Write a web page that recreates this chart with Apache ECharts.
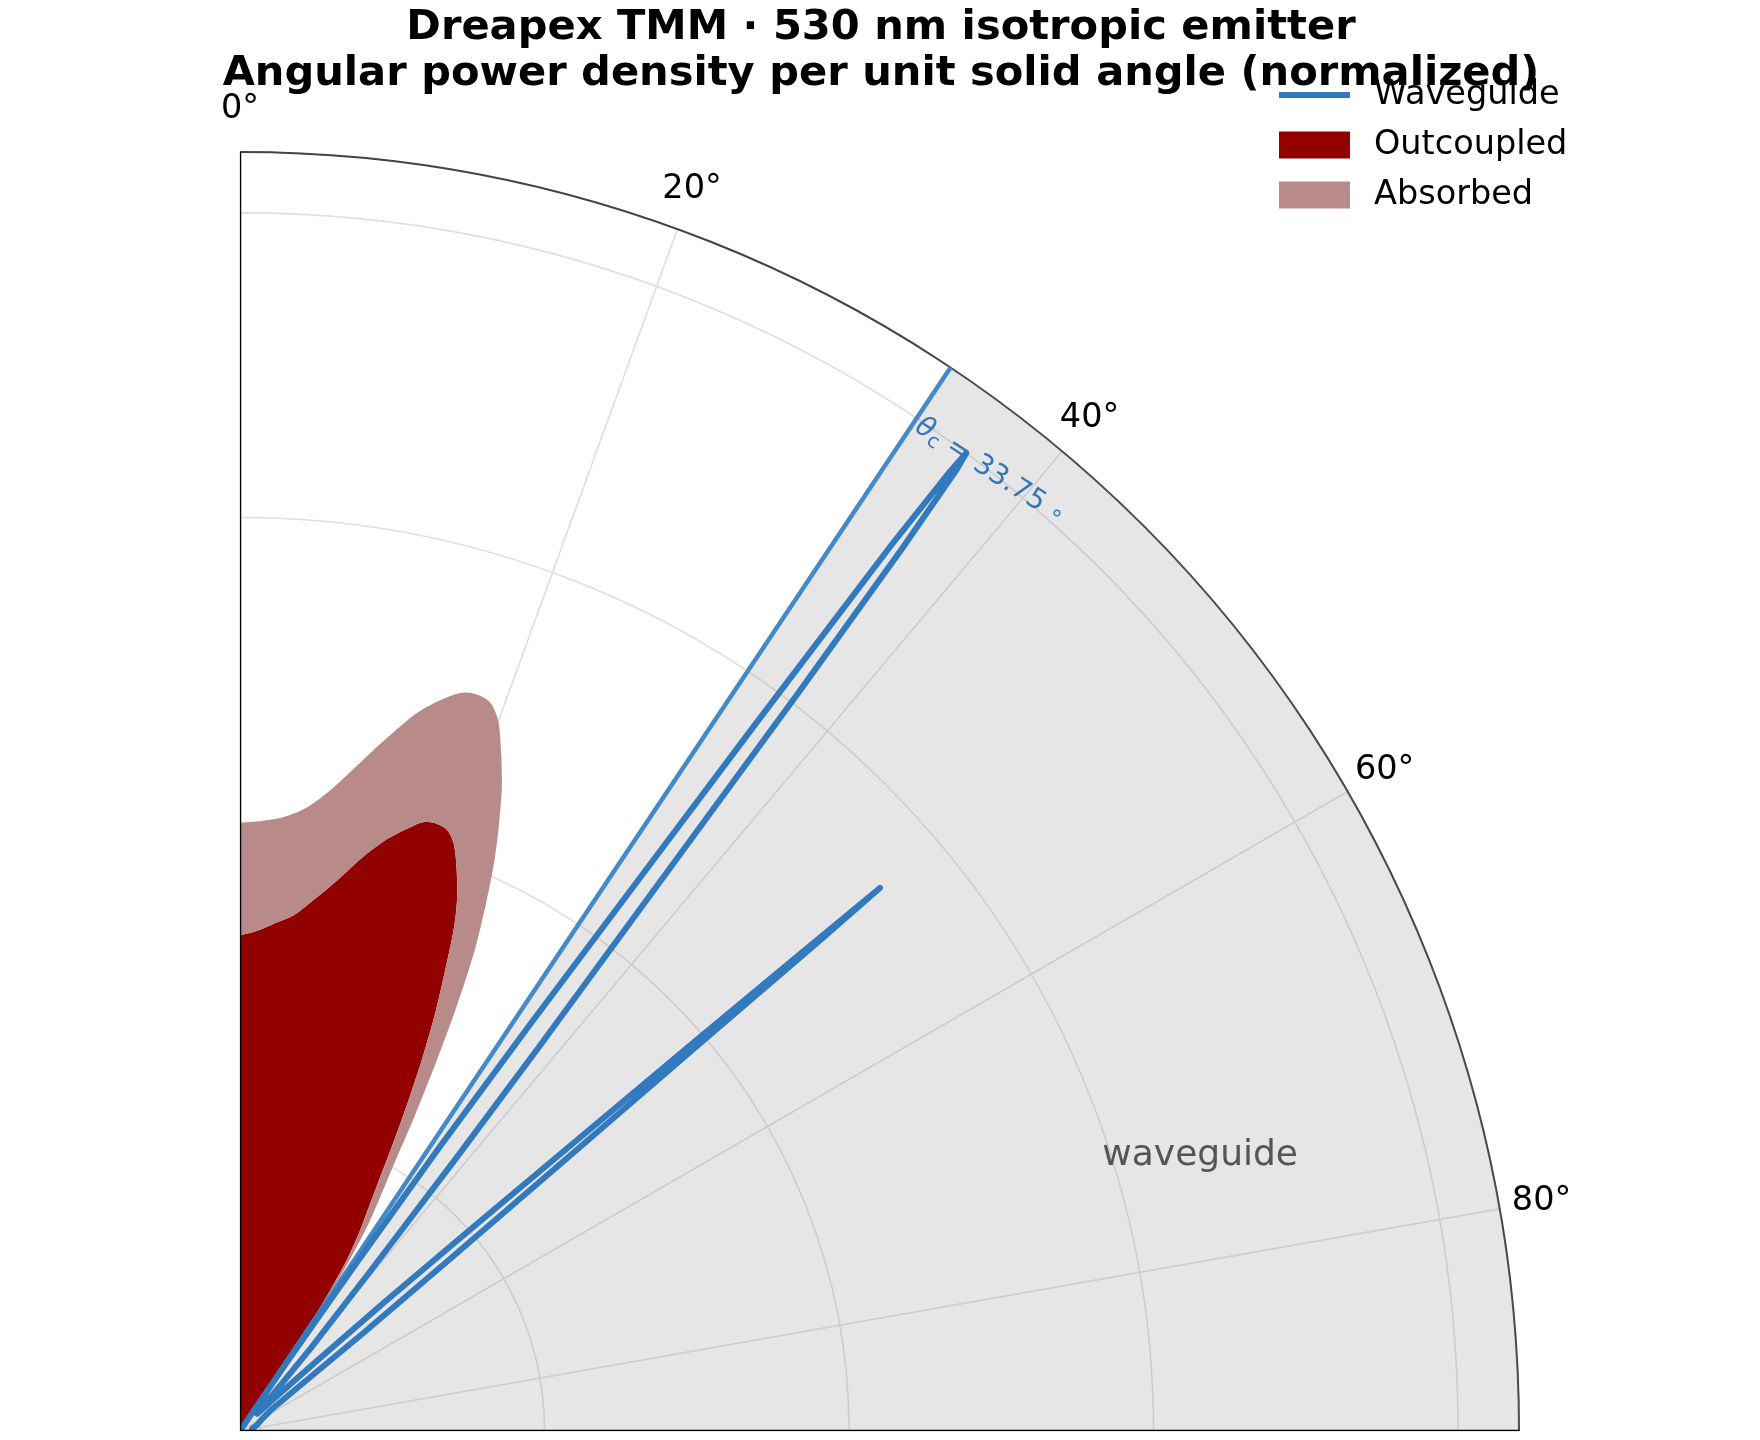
<!DOCTYPE html>
<html lang="en" style="height: 100%">
<head>
    <meta charset="UTF-8">
    <title>Dreapex TMM angular power density</title>
    <script type="text/javascript" src="https://cdn.jsdelivr.net/npm/echarts@6/dist/echarts.min.js"></script>
</head>
<body style="height: 100%; margin: 0; background: #fff">
<div id="container" style="width: 1760px; height: 1440px"></div>
<script type="text/javascript">
    // polar angles in degrees (0 = normal), radius = normalized power
    var fillAngles = [0, 2, 4, 6, 8, 10, 12, 14, 16, 17, 18, 19, 20, 21, 22, 23, 24, 25, 26, 27, 28, 29, 30, 31, 32, 33, 33.5, 33.75];
    var outcoupled = [0.407, 0.411, 0.418, 0.426, 0.441, 0.459, 0.481, 0.501, 0.517, 0.523, 0.524, 0.522, 0.513, 0.496, 0.476, 0.450, 0.414, 0.380, 0.343, 0.305, 0.268, 0.235, 0.210, 0.190, 0.165, 0.120, 0.050, 0];
    var absorbed = [0.092, 0.090, 0.087, 0.088, 0.090, 0.096, 0.101, 0.108, 0.111, 0.111, 0.111, 0.110, 0.107, 0.102, 0.098, 0.095, 0.100, 0.098, 0.097, 0.088, 0.075, 0.061, 0.042, 0.032, 0.029, 0.030, 0.020, 0];

    var wgAngles = [0, 33.75, 34.0, 34.3, 34.7, 35.1, 35.5, 35.83, 36.1, 36.32, 36.5, 36.6, 36.7, 36.88, 37.1, 37.45, 37.9, 38.4, 39.2, 40.5, 41.5, 43, 45, 46.5, 47.5, 48.3, 48.8, 49.14, 49.43, 49.58, 49.68, 49.78, 49.88, 50.18, 50.7, 51.5, 53, 56, 62, 70, 80, 90];
    var waveguide = [0, 0, 0.02, 0.07, 0.16, 0.285, 0.41, 0.54, 0.72, 0.90, 0.98, 1.0, 0.985, 0.907, 0.76, 0.549, 0.40, 0.284, 0.17, 0.09, 0.05, 0.025, 0.02, 0.04, 0.08, 0.16, 0.25, 0.34, 0.494, 0.60, 0.689, 0.62, 0.50, 0.347, 0.22, 0.13, 0.06, 0.03, 0.02, 0.015, 0.01, 0.01];

    var angleTicks = [0, 20, 40, 60, 80];
    var thetaC = 33.75;
    var rMax = 1.05;
    var rTickLabel = 1.085;

    function pairs(rs, angles) {
        var out = [];
        for (var i = 0; i < angles.length; i++) {
            out.push([rs[i], angles[i]]);
        }
        return out;
    }

    var myChart = echarts.init(document.getElementById('container'));
    var font = 'DejaVu Sans';
    var blueText = '#3476b9';

    myChart.setOption({
        animation: false,
        textStyle: {fontFamily: font},
        title: {
            text: 'Dreapex TMM · 530 nm isotropic emitter\nAngular power density per unit solid angle (normalized)',
            left: 876,
            top: 0,
            textAlign: 'center',
            textStyle: {fontFamily: font, fontSize: 41.6, fontWeight: 'bold', color: '#000', lineHeight: 46}
        },
        legend: {
            orient: 'vertical',
            left: 1274,
            top: 73,
            itemWidth: 71,
            itemHeight: 27,
            itemGap: 16,
            itemStyle: {borderWidth: 0},
            textStyle: {fontFamily: font, fontSize: 33.5, color: '#000', lineHeight: 33, padding: [0, 0, 0, 19]},
            data: [
                {name: 'Waveguide', icon: 'path://M0,0h72v6h-72z'},
                {name: 'Outcoupled', icon: 'rect'},
                {name: 'Absorbed', icon: 'rect'}
            ]
        },
        polar: {center: [240, 1431], radius: 1279},
        angleAxis: {
            type: 'value',
            min: 0,
            max: 90,
            interval: 20,
            startAngle: 90,
            endAngle: 0,
            clockwise: true,
            axisLine: {show: true, lineStyle: {color: '#444', width: 2}},
            axisTick: {show: false},
            axisLabel: {show: false},
            splitLine: {show: true, lineStyle: {color: '#dfdfdf', width: 1.6}}
        },
        radiusAxis: {
            type: 'value',
            min: 0,
            max: rMax,
            interval: 0.25,
            axisLine: {show: false},
            axisTick: {show: false},
            axisLabel: {show: false},
            splitLine: {show: true, lineStyle: {color: '#dfdfdf', width: 1.6}}
        },
        series: [
            {
                // trapped (waveguide) angular range shading
                type: 'custom',
                name: 'region',
                coordinateSystem: 'polar',
                silent: true,
                z: 1,
                data: [[rMax, thetaC, 90]],
                renderItem: function (params, api) {
                    var cs = params.coordSys;
                    var cx = cs.cx, cy = cs.cy;
                    var p0 = api.coord([api.value(0), api.value(1)]);
                    var p1 = api.coord([api.value(0), api.value(2)]);
                    var r = Math.sqrt((p0[0] - cx) * (p0[0] - cx) + (p0[1] - cy) * (p0[1] - cy));
                    return {
                        type: 'sector',
                        shape: {
                            cx: cx, cy: cy, r0: 0, r: r,
                            startAngle: Math.atan2(p0[1] - cy, p0[0] - cx),
                            endAngle: Math.atan2(p1[1] - cy, p1[0] - cx),
                            clockwise: true
                        },
                        style: {fill: 'rgba(140,140,140,0.22)'}
                    };
                }
            },
            {
                type: 'line',
                name: 'Outcoupled',
                coordinateSystem: 'polar',
                stack: 'power',
                symbol: 'none',
                smooth: 0.3,
                color: '#920000',
                z: 2,
                lineStyle: {width: 0, color: '#920000'},
                areaStyle: {color: '#920000', opacity: 1},
                data: pairs(outcoupled, fillAngles)
            },
            {
                type: 'line',
                name: 'Absorbed',
                coordinateSystem: 'polar',
                stack: 'power',
                symbol: 'none',
                smooth: 0.3,
                color: '#b88a8a',
                z: 2,
                lineStyle: {width: 0, color: '#b88a8a'},
                areaStyle: {color: '#b88a8a', opacity: 1},
                data: pairs(absorbed, fillAngles)
            },
            {
                type: 'line',
                name: 'critical',
                coordinateSystem: 'polar',
                symbol: 'none',
                z: 3,
                lineStyle: {width: 4.5, color: '#4589c6'},
                data: [[0, thetaC], [rMax, thetaC]]
            },
            {
                type: 'line',
                name: 'Waveguide',
                coordinateSystem: 'polar',
                symbol: 'none',
                color: '#3279bd',
                z: 4,
                lineStyle: {width: 6, color: '#3279bd', join: 'round', cap: 'round'},
                data: pairs(waveguide, wgAngles)
            },
            {
                type: 'line',
                name: 'spine0',
                coordinateSystem: 'polar',
                symbol: 'none',
                z: 5,
                lineStyle: {width: 2.5, color: '#000'},
                data: [[0, 0], [rMax, 0]]
            },
            {
                type: 'line',
                name: 'spine90',
                coordinateSystem: 'polar',
                symbol: 'none',
                z: 5,
                lineStyle: {width: 2.5, color: '#000'},
                data: [[0, 90], [rMax, 90]]
            },
            {
                // angular tick labels, centred just outside the rim
                type: 'scatter',
                name: 'angleLabels',
                coordinateSystem: 'polar',
                symbolSize: 1,
                silent: true,
                clip: false,
                z: 6,
                itemStyle: {color: 'rgba(0,0,0,0)', opacity: 1},
                label: {
                    show: true,
                    position: 'inside',
                    fontFamily: font,
                    fontSize: 33.5,
                    color: '#000',
                    textBorderWidth: 0,
                    formatter: function (p) { return p.value[1] + '°'; }
                },
                data: angleTicks.map(function (a) { return [rTickLabel, a]; })
            },
            {
                type: 'scatter',
                name: 'notes',
                coordinateSystem: 'polar',
                symbolSize: 1,
                silent: true,
                z: 6,
                itemStyle: {color: 'rgba(0,0,0,0)', opacity: 1},
                data: [
                    {
                        value: [1.0, 38.0],
                        label: {
                            show: true,
                            position: 'inside',
                            rotate: -33,
                            textBorderWidth: 0,
                            formatter: '{th|θ}{sub|c}{n| = 33.75 }{deg|∘}',
                            rich: {
                                th: {fontFamily: font, fontSize: 28, fontStyle: 'italic', color: blueText},
                                sub: {fontFamily: font, fontSize: 20, color: blueText, padding: [14, 0, 0, 0]},
                                n: {fontFamily: font, fontSize: 28, color: blueText},
                                deg: {fontFamily: font, fontSize: 23, color: blueText}
                            }
                        }
                    },
                    {
                        value: [0.82, 74],
                        label: {
                            show: true,
                            position: 'inside',
                            formatter: 'waveguide',
                            textBorderWidth: 0,
                            fontFamily: font,
                            fontSize: 36,
                            color: '#555'
                        }
                    }
                ]
            }
        ]
    });
</script>
</body>
</html>
